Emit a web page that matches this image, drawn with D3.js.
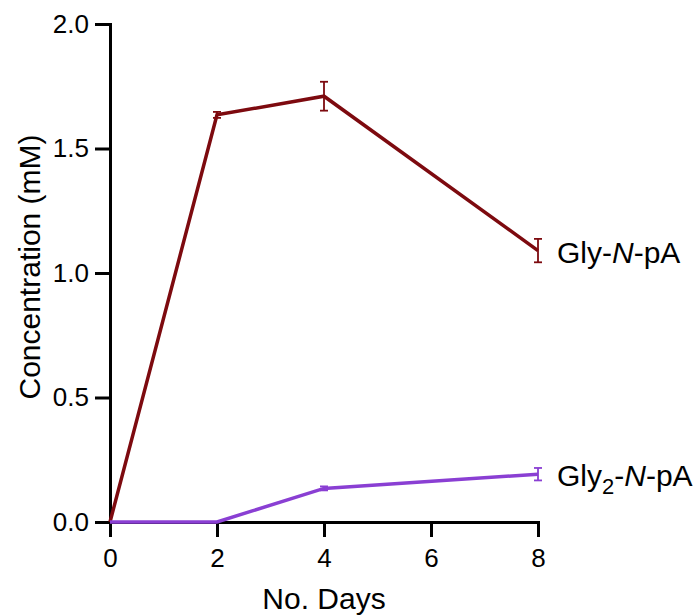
<!DOCTYPE html>
<html>
<head>
<meta charset="utf-8">
<script src="https://cdn.jsdelivr.net/npm/d3@7"></script>
<style>
  body { margin: 0; background: #fff; }
  text { font-family: "Liberation Sans", Arial, sans-serif; fill: #000; }
</style>
</head>
<body>
<div id="chart"></div>
<script>
// data
var days = [0, 2, 4, 8];
var glyMeans = [0, 1.635, 1.71, 1.09];
var glyErr = [0, 0.012, 0.058, 0.047];
var gly2Means = [0, 0, 0.135, 0.192];
var gly2Err = [0, 0, 0.008, 0.025];
var xTicks = [0, 2, 4, 6, 8];
var yTicks = [0, 0.5, 1.0, 1.5, 2.0];

var svgWidth = 697, svgHeight = 615;
var margin = { top: 24, left: 110, right: 159, bottom: 93 };
var width = svgWidth - margin.left - margin.right;
var height = svgHeight - margin.top - margin.bottom;

var svg = d3.select("#chart").append("svg")
    .attr("width", svgWidth)
    .attr("height", svgHeight);

var chartGroup = svg.append("g")
    .attr("transform", `translate(${margin.left}, ${margin.top})`);

var xScale = d3.scaleLinear().domain([0, 8]).range([0, width]);
var yScale = d3.scaleLinear().domain([0, 2]).range([height, 0]);

// axes
var xAxis = d3.axisBottom(xScale).tickValues(xTicks).tickSize(15).tickPadding(12)
    .tickFormat(d3.format("d"));
var yAxis = d3.axisLeft(yScale).tickValues(yTicks).tickSize(15).tickPadding(6)
    .tickFormat(d3.format(".1f"));

var gx = chartGroup.append("g")
    .attr("transform", `translate(0, ${height})`)
    .call(xAxis);
var gy = chartGroup.append("g").call(yAxis);

[gx, gy].forEach(function(g) {
  g.select(".domain").attr("stroke", "#000").attr("stroke-width", 3);
  g.selectAll(".tick line").attr("stroke", "#000").attr("stroke-width", 3);
  g.selectAll(".tick text").attr("font-size", 26).attr("fill", "#000")
    .style("font-family", "'Liberation Sans', Arial, sans-serif");
});

// axis titles
chartGroup.append("text")
    .attr("x", width / 2)
    .attr("y", height + 87)
    .attr("text-anchor", "middle")
    .attr("font-size", 30)
    .text("No. Days");

chartGroup.append("text")
    .attr("transform", "rotate(-90)")
    .attr("x", -243)
    .attr("y", -70)
    .attr("text-anchor", "middle")
    .attr("font-size", 30)
    .text("Concentration (mM)");

// series
var series = [
  { means: glyMeans, err: glyErr, color: "#7d0a0f" },
  { means: gly2Means, err: gly2Err, color: "#8a3fd3" }
];

var line = d3.line()
    .x(d => xScale(d.day))
    .y(d => yScale(d.v));

series.forEach(function(s) {
  var pts = days.map((d, i) => ({ day: d, v: s.means[i], e: s.err[i] }));

  chartGroup.append("path")
      .datum(pts)
      .attr("fill", "none")
      .attr("stroke", s.color)
      .attr("stroke-width", 3.5)
      .attr("d", line);

  var eb = chartGroup.selectAll(null)
      .data(pts.filter(p => p.e > 0))
      .enter().append("g")
      .attr("stroke", s.color)
      .attr("stroke-width", 1.8);

  eb.append("line")
      .attr("x1", d => xScale(d.day)).attr("x2", d => xScale(d.day))
      .attr("y1", d => yScale(d.v + d.e)).attr("y2", d => yScale(d.v - d.e));
  eb.append("line")
      .attr("x1", d => xScale(d.day) - 4).attr("x2", d => xScale(d.day) + 4)
      .attr("y1", d => yScale(d.v + d.e)).attr("y2", d => yScale(d.v + d.e));
  eb.append("line")
      .attr("x1", d => xScale(d.day) - 4).attr("x2", d => xScale(d.day) + 4)
      .attr("y1", d => yScale(d.v - d.e)).attr("y2", d => yScale(d.v - d.e));
});

// series labels
var lab1 = chartGroup.append("text")
    .attr("x", width + 19)
    .attr("y", yScale(glyMeans[3]) + 12)
    .attr("font-size", 30);
lab1.append("tspan").text("Gly-");
lab1.append("tspan").attr("font-style", "italic").text("N");
lab1.append("tspan").text("-pA");

var lab2 = chartGroup.append("text")
    .attr("x", width + 19)
    .attr("y", yScale(gly2Means[3]) + 12)
    .attr("font-size", 30);
lab2.append("tspan").text("Gly");
lab2.append("tspan").attr("font-size", 22).attr("dy", 8).text("2");
lab2.append("tspan").attr("dy", -8).text("-");
lab2.append("tspan").attr("font-style", "italic").text("N");
lab2.append("tspan").text("-pA");
</script>
</body>
</html>
